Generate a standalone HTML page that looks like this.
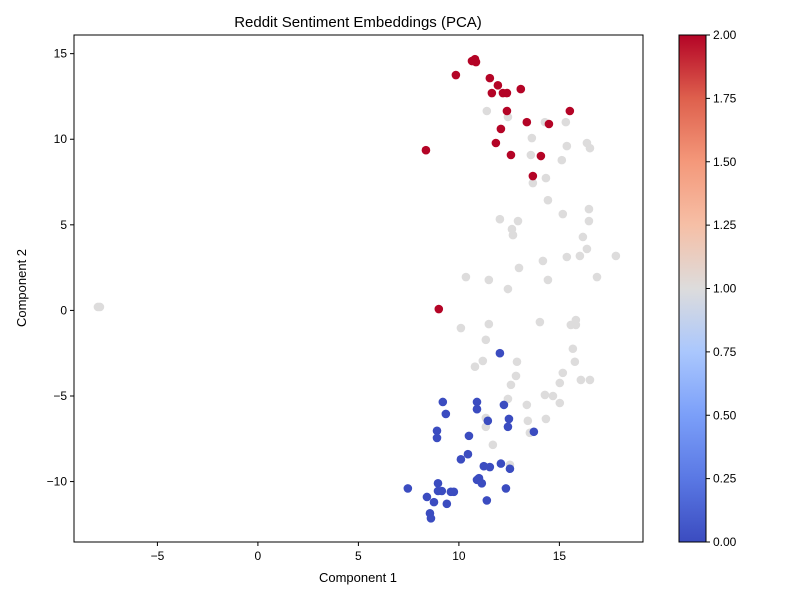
<!DOCTYPE html>
<html><head><meta charset="utf-8"><style>
html,body{margin:0;padding:0;background:#fff}
svg text{font-family:"Liberation Sans","DejaVu Sans",sans-serif;fill:#000}
</style></head><body>
<svg id="chart" width="800" height="600" xmlns="http://www.w3.org/2000/svg">
<defs><linearGradient id="cw" x1="0" y1="1" x2="0" y2="0">
<stop offset="0" stop-color="#3b4cc0"/><stop offset="0.125" stop-color="#5a78e4"/><stop offset="0.25" stop-color="#7b9ff9"/><stop offset="0.375" stop-color="#aac7fd"/><stop offset="0.5" stop-color="#dddcdc"/><stop offset="0.625" stop-color="#f6bfa6"/><stop offset="0.75" stop-color="#f4987a"/><stop offset="0.875" stop-color="#de604d"/><stop offset="1" stop-color="#b40426"/></linearGradient></defs>
<text x="358" y="27" font-size="15" text-anchor="middle">Reddit Sentiment Embeddings (PCA)</text>
<g id="points"></g>
<rect x="74" y="35" width="569" height="507" fill="none" stroke="#000" stroke-width="1"/>
<g id="xticks"></g>
<g id="yticks"></g>
<text x="358" y="582" font-size="13" text-anchor="middle">Component 1</text>
<text x="26" y="288" font-size="13" text-anchor="middle" transform="rotate(-90 26 288)">Component 2</text>
<rect x="679" y="35" width="27" height="507" fill="url(#cw)" stroke="#000" stroke-width="1"/>
<g id="cticks"></g>
</svg>
<script>
const blueX=[12.04,9.20,10.90,12.24,10.90,9.35,11.44,12.49,8.91,12.44,13.73,10.50,8.91,10.45,10.10,11.24,11.54,12.09,12.54,11.0,10.90,11.14,8.96,7.46,12.34,8.41,8.76,11.39,9.40,8.96,9.15,9.60,9.75,8.56,8.61];
const blueY=[-2.5,-5.35,-5.35,-5.52,-5.77,-6.05,-6.45,-6.34,-7.03,-6.80,-7.09,-7.33,-7.45,-8.4,-8.7,-9.1,-9.15,-8.95,-9.25,-9.8,-9.9,-10.1,-10.1,-10.4,-10.4,-10.9,-11.2,-11.1,-11.3,-10.55,-10.55,-10.6,-10.6,-11.85,-12.15];
const grayX=[-7.96,-7.86,11.39,12.44,14.28,15.32,13.63,16.37,15.37,16.52,13.58,15.12,14.33,13.68,14.43,16.47,15.17,16.47,12.04,12.94,12.64,12.69,16.17,16.37,15.37,16.02,17.81,12.99,14.18,10.35,11.49,14.43,16.87,12.44,14.03,11.49,10.10,15.57,15.82,15.82,11.34,15.67,12.89,11.19,15.77,10.80,15.17,12.84,16.07,16.52,12.59,15.02,14.28,14.68,12.44,13.38,15.02,11.34,13.43,14.33,11.34,13.53,11.69,12.54];
const grayY=[0.2,0.2,11.65,11.30,11.0,11.0,10.07,9.78,9.60,9.48,9.08,8.78,7.73,7.44,6.44,5.92,5.63,5.22,5.33,5.22,4.75,4.40,4.29,3.59,3.12,3.18,3.18,2.48,2.89,1.95,1.78,1.78,1.95,1.25,-0.68,-0.80,-1.03,-0.85,-0.56,-0.85,-1.72,-2.24,-3.0,-2.95,-3.0,-3.29,-3.65,-3.83,-4.06,-4.06,-4.35,-4.24,-4.94,-5.0,-5.17,-5.52,-5.41,-6.28,-6.45,-6.34,-6.80,-7.15,-7.85,-9.02];
const redX=[10.80,10.85,10.65,9.85,11.54,11.94,11.64,12.19,12.39,13.08,12.39,15.52,14.48,13.38,12.09,11.84,12.59,14.08,8.36,13.68,9.0];
const redY=[14.68,14.51,14.57,13.75,13.57,13.15,12.7,12.7,12.7,12.93,11.65,11.65,10.89,11.0,10.6,9.78,9.08,9.02,9.36,7.85,0.08];
const xTicks=[-5,0,5,10,15];
const yTicks=[-10,-5,0,5,10,15];
const cTicks=["0.00","0.25","0.50","0.75","1.00","1.25","1.50","1.75","2.00"];
const NS="http://www.w3.org/2000/svg";
const X0=74,X1=643,Y0=35,Y1=542,xmin=-9.15,xmax=19.16,ymin=-13.53,ymax=16.09;
const sx=v=>X0+(v-xmin)/(xmax-xmin)*(X1-X0);
const sy=v=>Y1-(v-ymin)/(ymax-ymin)*(Y1-Y0);
function mk(t,a,p){const e=document.createElementNS(NS,t);for(const k in a)e.setAttribute(k,a[k]);p.appendChild(e);return e;}
const pg=document.getElementById('points');
function series(xs,ys,col,name){xs.forEach((x,i)=>{const c=mk('circle',{cx:sx(x),cy:sy(ys[i]),r:4.3,fill:col},pg);

});}
series(grayX,grayY,'#dddcdc','point-neutral');
series(blueX,blueY,'#3b4cc0','point-negative');
series(redX,redY,'#b40426','point-positive');
const xg=document.getElementById('xticks');
xTicks.forEach(v=>{const x=sx(v);mk('line',{x1:x,x2:x,y1:Y1,y2:Y1+4,stroke:'#000'},xg);
const t=mk('text',{x:x,y:Y1+18,'font-size':12,'text-anchor':'middle'},xg);t.textContent=v<0?'\u2212'+(-v):v;

});
const yg=document.getElementById('yticks');
yTicks.forEach(v=>{const y=sy(v);mk('line',{x1:X0-4,x2:X0,y1:y,y2:y,stroke:'#000'},yg);
const t=mk('text',{x:X0-7,y:y+4,'font-size':12,'text-anchor':'end'},yg);t.textContent=v<0?'\u2212'+(-v):v;

});
const cg=document.getElementById('cticks');
cTicks.forEach((s,i)=>{const y=Y1-(parseFloat(s)/2)*(Y1-Y0);mk('line',{x1:706,x2:710,y1:y,y2:y,stroke:'#000'},cg);
const t=mk('text',{x:713,y:y+4,'font-size':12},cg);t.textContent=s;

});
</script>
</body></html>
